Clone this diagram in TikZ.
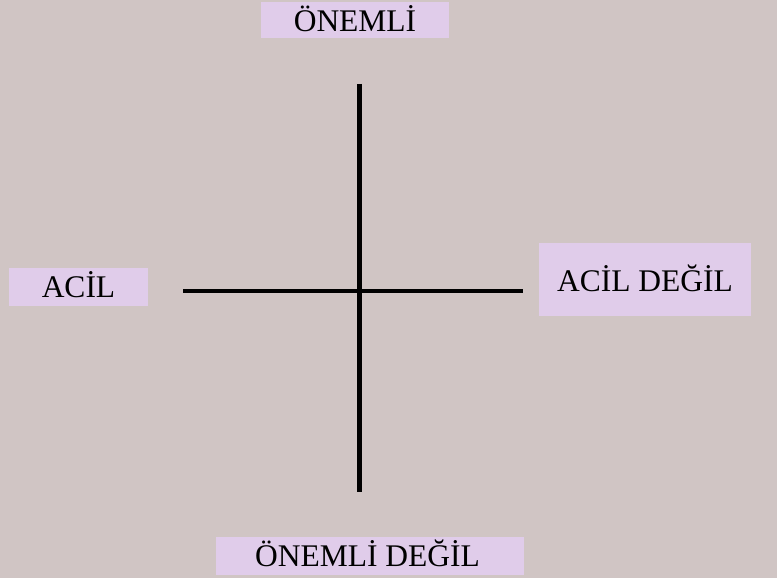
\documentclass[tikz,border=0pt]{standalone}
\usepackage{fontspec}
\setmainfont{Liberation Serif}
\definecolor{bgc}{RGB}{208,197,196}
\definecolor{boxc}{RGB}{224,204,234}
\tikzset{
  lbl/.style={anchor=base, inner sep=0pt, font=\fontsize{31.5}{32}\selectfont, text=black},
  axis/.style={line width=4.8pt, draw=black}
}
\begin{document}
\begin{tikzpicture}[x=1pt,y=-1pt]
\fill[bgc] (0,0) rectangle (777,578);
\useasboundingbox (0,0) rectangle (777,578);
\fill[boxc] (261,2) rectangle (449,38);
\fill[boxc] (9,268) rectangle (148,306);
\fill[boxc] (539,243) rectangle (751,316);
\fill[boxc] (216,537) rectangle (524,575);
\node[lbl] (top) at (355,32) {ÖNEMLİ};
\node[lbl] (left) at (78.5,297) {ACİL};
\node[lbl] (right) at (645,291) {ACİL DEĞİL};
\node[lbl] (bottom) at (367.5,566) {ÖNEMLİ DEĞİL};
\coordinate (vt) at (359.5,84);
\coordinate (vb) at (359.5,492);
\coordinate (hl) at (183,291);
\coordinate (hr) at (523,291);
\draw[axis] (vt) -- (vb);
\draw[axis] (hl) -- (hr);
\end{tikzpicture}
\end{document}
